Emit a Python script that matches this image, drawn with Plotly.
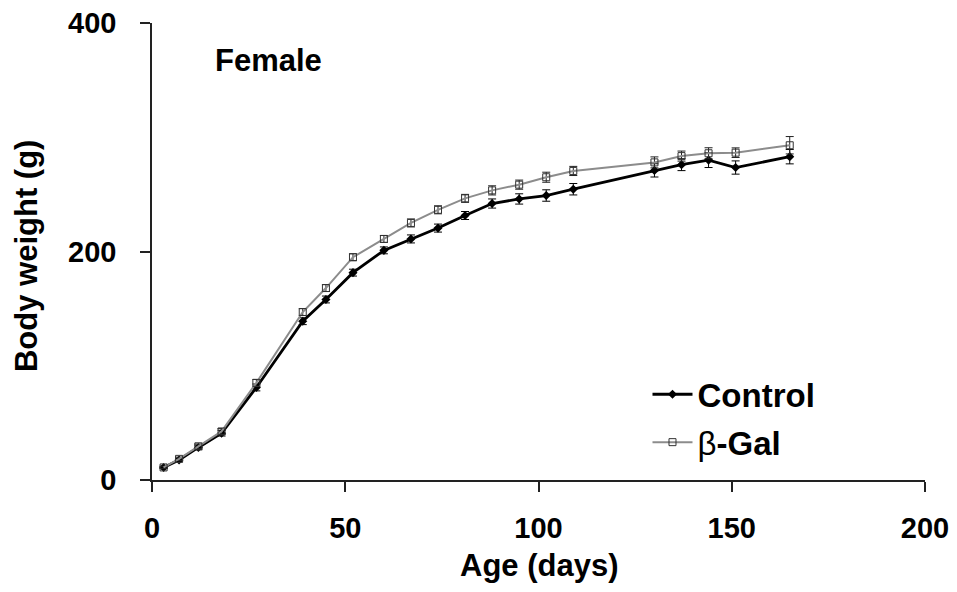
import plotly.graph_objects as go

# Age of the animals at each weighing (days)
age_days = [3, 7, 12, 18, 27, 39, 45, 52, 60, 67, 74, 81, 88, 95, 102, 109, 130, 137, 144, 151, 165]

# Mean body weight (g) and SEM per group
control_weight = [11, 17.5, 28.5, 41, 81, 139, 158, 181.5, 201, 211, 220.5, 231.5, 242, 246, 249, 254.5,
                  271, 276, 280, 273.5, 283]
control_sem = [1, 1.5, 2, 2.5, 3, 3, 3, 3, 3, 3.5, 3.5, 3.5, 4, 4.5, 5, 5, 5.8, 5.2, 6.5, 5.8, 6.3]

bgal_weight = [11, 18.5, 29.5, 42.5, 85, 147, 168, 195, 211, 225, 236.5, 246.5, 253.5, 258.5, 265, 270.5,
               278, 283.5, 286, 286.5, 293]
bgal_sem = [1, 1.5, 2, 2.5, 3, 3, 3, 3, 3, 3.5, 3.5, 3.5, 4, 4, 4.4, 4, 4.8, 4.4, 4.8, 4.2, 7.6]

x_ticks = [0, 50, 100, 150, 200]
y_ticks = [0, 200, 400]

FONT = "Arial, 'Liberation Sans', sans-serif"

fig = go.Figure()

fig.add_trace(go.Scatter(
    x=age_days, y=control_weight,
    name="<b>Control</b>", legendgroup="control",
    mode="lines+markers",
    line=dict(color="#000000", width=2.8),
    marker=dict(symbol="diamond", size=7, color="#000000"),
    error_y=dict(type="data", array=control_sem, visible=True,
                 color="#000000", thickness=1, width=4),
))

fig.add_trace(go.Scatter(
    x=age_days, y=bgal_weight,
    name="β<b>-Gal</b>", legendgroup="bgal",
    mode="lines+markers",
    line=dict(color="#8c8c8c", width=2),
    marker=dict(symbol="square-open", size=7, color="#333333", line=dict(width=1)),
    error_y=dict(type="data", array=bgal_sem, visible=True,
                 color="#222222", thickness=1, width=4),
))

fig.add_annotation(
    x=15.8, y=367, xref="x", yref="y", text="<b>Female</b>",
    showarrow=False, xanchor="left", yanchor="middle",
    font=dict(family=FONT, size=31, color="#000000"),
)

# Axis titles
fig.add_annotation(
    x=0.5, y=-0.188, xref="paper", yref="paper", text="<b>Age (days)</b>",
    showarrow=False, xanchor="center", yanchor="middle",
    font=dict(family=FONT, size=31, color="#000000"),
)
fig.add_annotation(
    x=-0.163, y=0.49, xref="paper", yref="paper", text="<b>Body weight (g)</b>",
    showarrow=False, xanchor="center", yanchor="middle", textangle=-90,
    font=dict(family=FONT, size=31, color="#000000"),
)

fig.update_layout(
    width=957, height=592,
    margin=dict(l=152, r=32, t=23, b=112),
    paper_bgcolor="white", plot_bgcolor="white",
    font=dict(family=FONT, color="#000000"),
    showlegend=True,
    legend=dict(
        x=0.641, y=0.135, xanchor="left", yanchor="middle",
        bgcolor="rgba(0,0,0,0)", borderwidth=0,
        font=dict(family=FONT, size=33, color="#000000"),
        tracegroupgap=2, itemwidth=40,
    ),
)

fig.update_xaxes(
    range=[0, 200], tickvals=x_ticks, ticktext=[f"<b>{v}</b>" for v in x_ticks],
    showgrid=False, zeroline=False, showline=True, linecolor="#222222", linewidth=1.5,
    ticks="outside", ticklen=10, tickwidth=1.5, tickcolor="#222222",
    tickfont=dict(family=FONT, size=29, color="#000000"),
    ticklabelstandoff=11, automargin=False,
)
fig.update_yaxes(
    range=[0, 400], tickvals=y_ticks, ticktext=[f"<b>{v}</b>" for v in y_ticks],
    showgrid=False, zeroline=False, showline=True, linecolor="#222222", linewidth=1.5,
    ticks="outside", ticklen=10, tickwidth=1.5, tickcolor="#222222",
    tickfont=dict(family=FONT, size=29, color="#000000"),
    ticklabelstandoff=18, automargin=False,
)

fig.write_html("out.html")
